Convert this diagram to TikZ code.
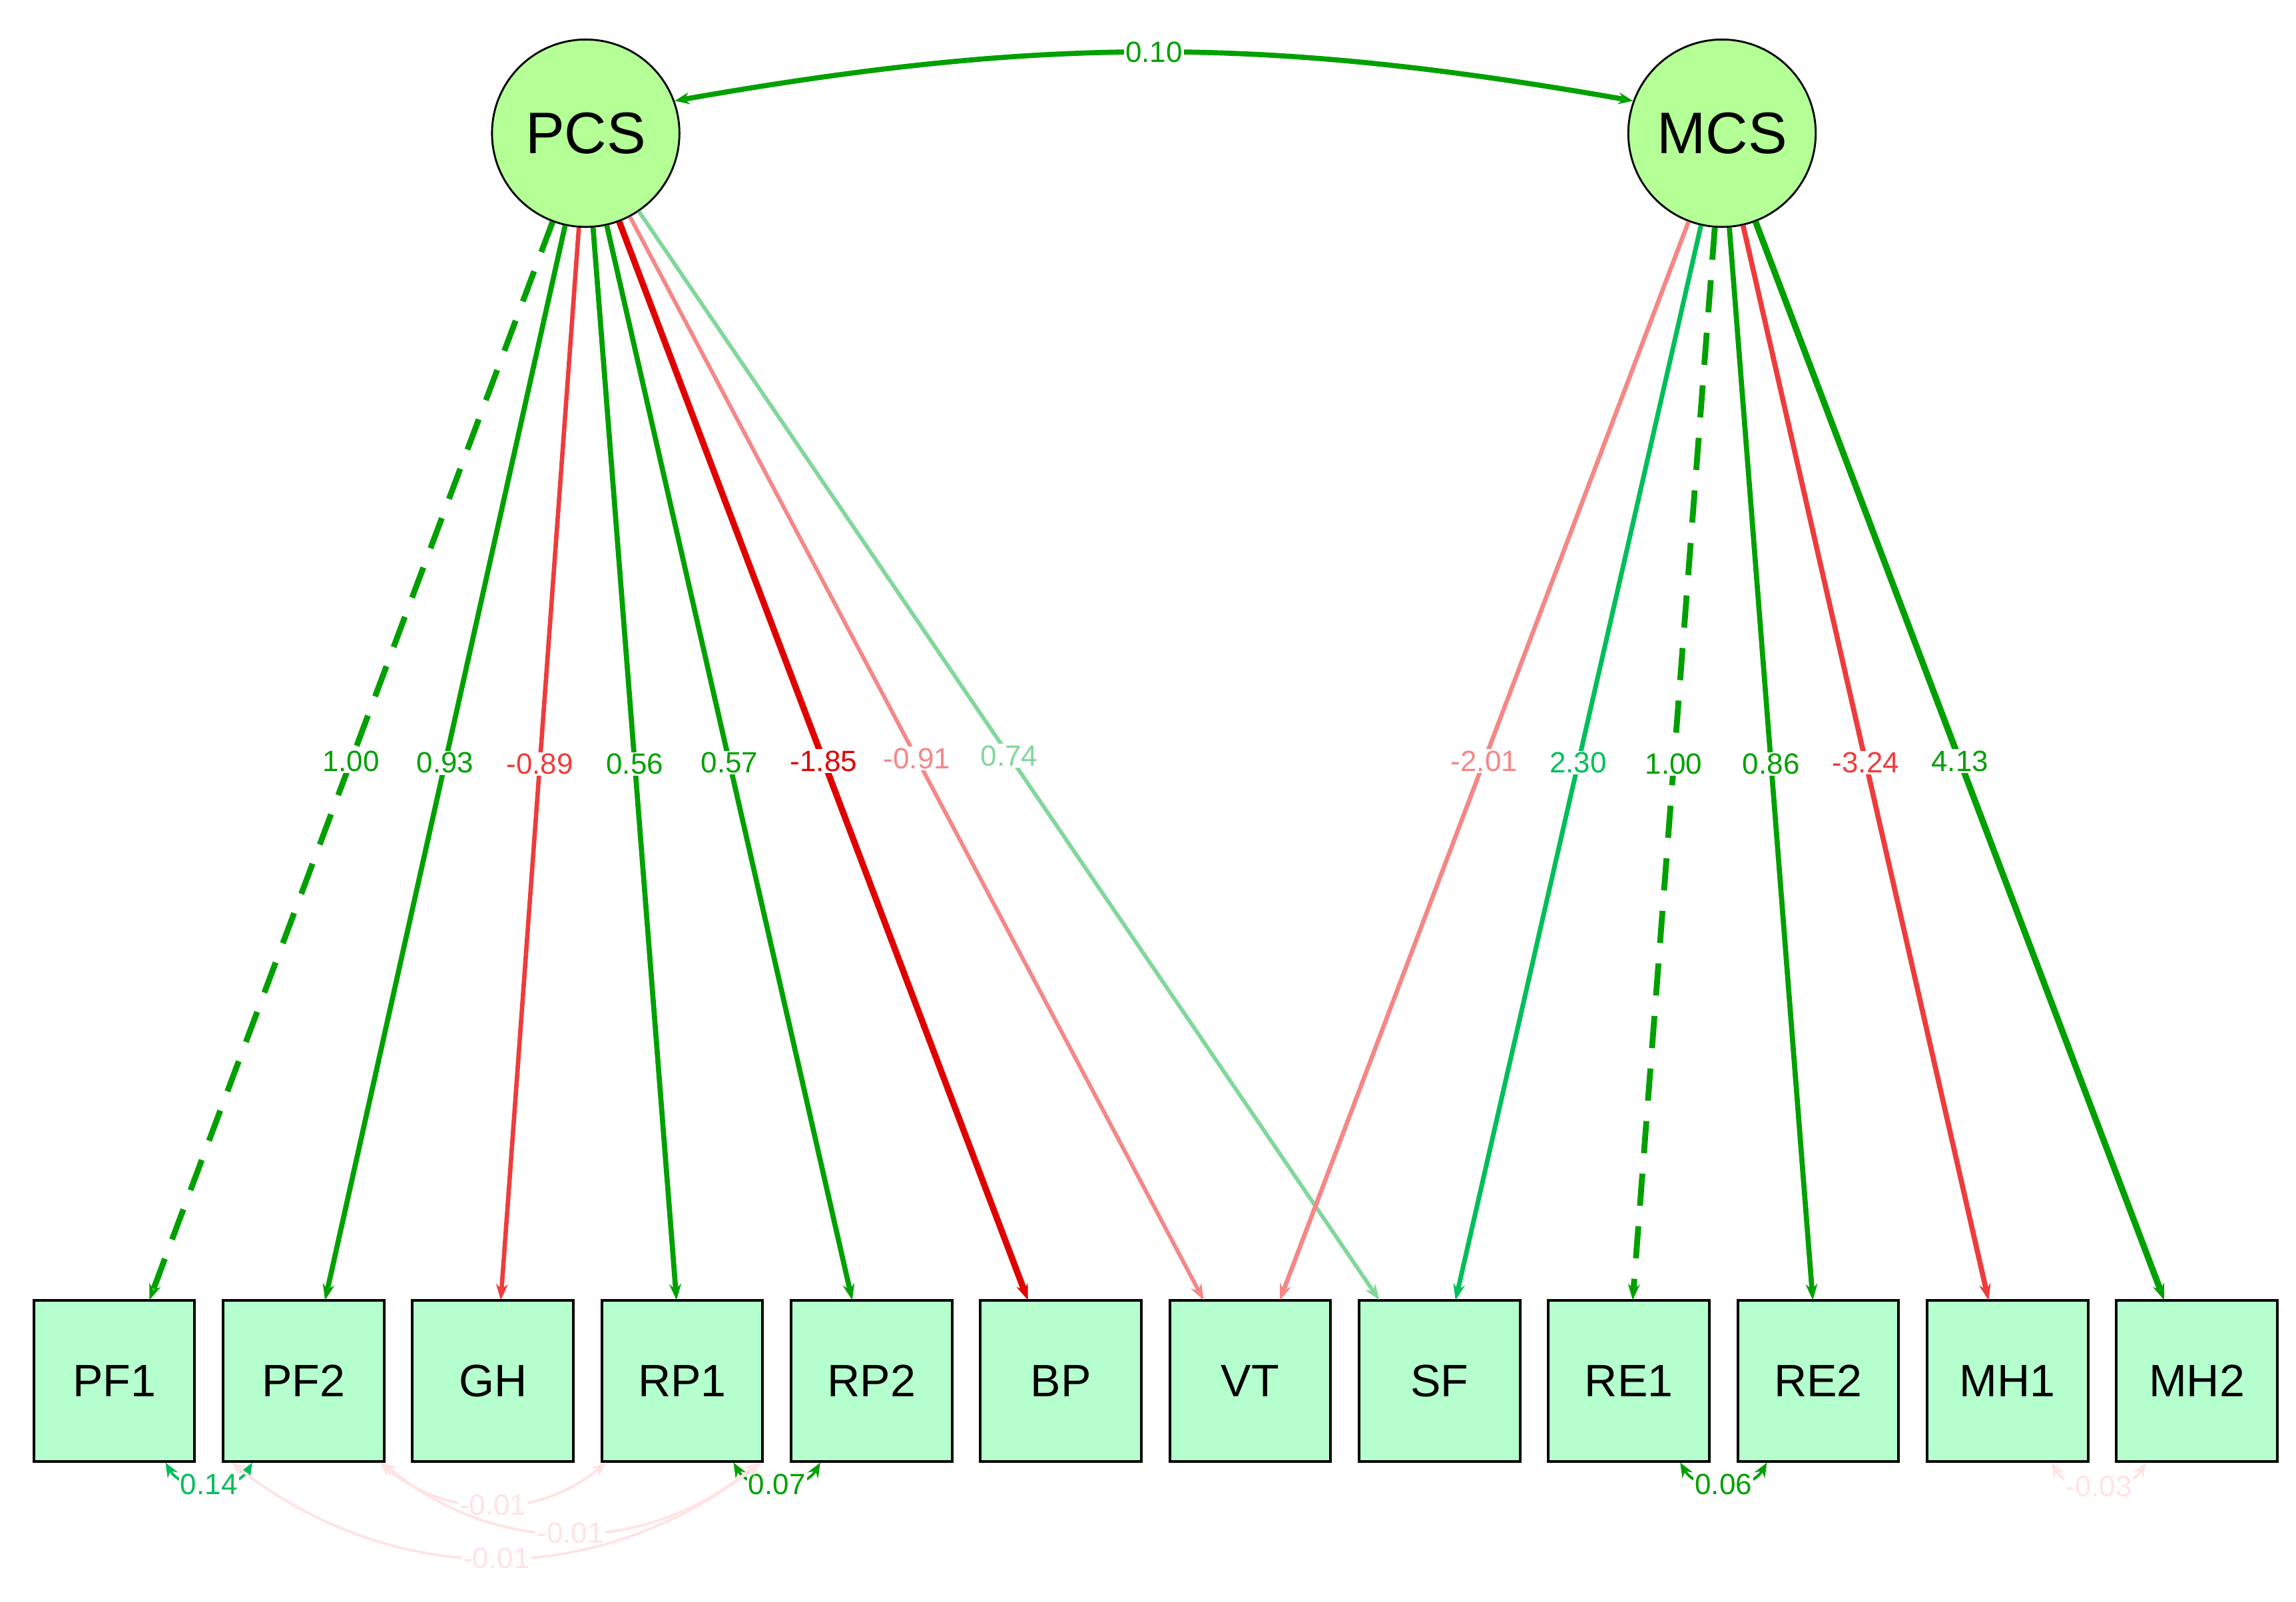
\documentclass[tikz,border=0pt]{standalone}
\usepackage{fontspec}
\setmainfont{Liberation Sans}
\usetikzlibrary{arrows.meta,calc}
\definecolor{lat}{RGB}{180,255,150}
\definecolor{man}{RGB}{180,255,205}
\definecolor{gA}{RGB}{0,160,0}
\definecolor{gB}{RGB}{0,190,90}
\definecolor{gC}{RGB}{130,215,155}
\definecolor{rA}{RGB}{225,0,0}
\definecolor{rB}{RGB}{238,60,60}
\definecolor{rC}{RGB}{245,135,135}
\definecolor{rD}{RGB}{255,228,228}
\tikzset{
  latent/.style={circle,draw,line width=1.3pt,fill=lat,minimum size=128pt,inner sep=0pt,font=\fontsize{40}{40}\selectfont},
  manifest/.style={rectangle,draw,line width=1.8pt,fill=man,minimum size=110pt,inner sep=0pt,font=\fontsize{31}{31}\selectfont},
  load/.style={-{Stealth[length=11pt,width=8pt]}},
  fixed/.style={dash pattern=on 22pt off 14pt},
  free/.style={},
  cov/.style={{Stealth[length=10pt,width=8pt]}-{Stealth[length=10pt,width=8pt]}},
  lab/.style={fill=white,inner sep=1pt,font=\fontsize{20}{20}\selectfont}
}
\begin{document}
\begin{tikzpicture}[x=1pt,y=-1pt]
\useasboundingbox (0,0) rectangle (1568,1094);

\node[latent] (PCS) at (400,91) {PCS};
\node[latent] (MCS) at (1176,91) {MCS};

\foreach \n [count=\i from 0] in {PF1,PF2,GH,RP1,RP2,BP,VT,SF,RE1,RE2,MH1,MH2}
  \node[manifest] (\n) at (78+129.3*\i,943) {\n};

% loadings of PCS
\foreach \x/\w/\c/\v/\d in {102/4/gA/1.00/fixed, 222/3.5/gA/0.93/free, 342/3/rB/-0.89/free,
  462/3.5/gA/0.56/free, 582/3.5/gA/0.57/free, 702/4.3/rA/-1.85/free, 822/2.7/rC/-0.91/free, 942/2.7/gC/0.74/free}
{
  \coordinate (t) at (\x,888);
  \draw[load,line width=\w pt,color=\c,\d] (PCS) -- (t) node[lab,pos=0.5,text=\c]{\v};
}
% loadings of MCS
\foreach \x/\w/\c/\v/\d in {874/3/rC/-2.01/free, 994/3.2/gB/2.30/free, 1115/4/gA/1.00/fixed,
  1238/3.5/gA/0.86/free, 1358/3.5/rB/-3.24/free, 1478/4.3/gA/4.13/free}
{
  \coordinate (t) at (\x,888);
  \draw[load,line width=\w pt,color=\c,\d] (MCS) -- (t) node[lab,pos=0.5,text=\c]{\v};
}

% covariances
\draw[cov,gA,line width=3.5pt] (PCS.20) to[out=10,in=170] node[lab,text=gA]{0.10} (MCS.160);

\draw[cov,gB,line width=1.8pt] ($(PF1.south)+(35,0)$) to[out=-60,in=-120] node[lab,text=gB]{0.14} ($(PF2.south)+(-35,0)$);
\draw[cov,gA,line width=1.8pt] ($(RP1.south)+(35,0)$) to[out=-60,in=-120] node[lab,text=gA]{0.07} ($(RP2.south)+(-35,0)$);
\draw[cov,gA,line width=1.8pt] ($(RE1.south)+(35,0)$) to[out=-60,in=-120] node[lab,text=gA]{0.06} ($(RE2.south)+(-35,0)$);
\draw[cov,rD,line width=1.8pt] ($(MH1.south)+(30,0)$) to[out=-60,in=-120] node[lab,text=rD]{-0.03} ($(MH2.south)+(-35,0)$);

\draw[cov,rD,line width=1.8pt] ($(PF2.south)+(52,0)$) to[out=-40,in=-140] node[lab,text=rD]{-0.01} ($(RP1.south)+(-52,0)$);
\draw[cov,rD,line width=1.8pt] ($(PF2.south)+(54,0)$) to[out=-40,in=-140] node[lab,text=rD]{-0.01} ($(RP1.south)+(52,0)$);
\draw[cov,rD,line width=1.8pt] ($(PF1.south)+(80,0)$) to[out=-38,in=-142] node[lab,text=rD]{-0.01} ($(RP1.south)+(54,0)$);
\end{tikzpicture}
\end{document}
